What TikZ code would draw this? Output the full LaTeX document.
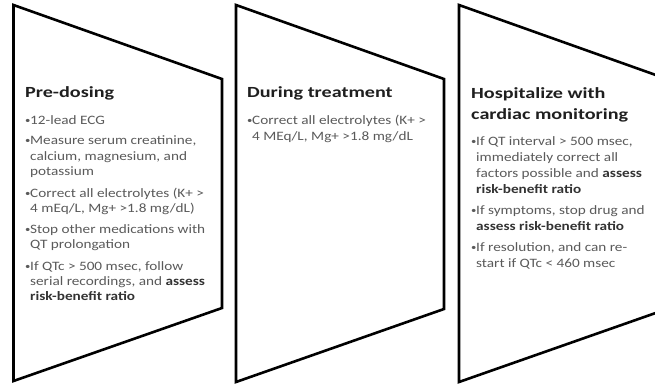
\documentclass[tikz,border=0pt]{standalone}
\usepackage{fontspec}
\setmainfont{Carlito}
\newfontfamily\boxfont[FakeStretch=1.19]{Carlito}
\newfontfamily\headfont[FakeStretch=1.3]{Carlito}
\usepackage{xcolor}
\definecolor{titletext}{HTML}{1F1F1F}
\definecolor{bodytext}{HTML}{5A5A5A}
\definecolor{boldtext}{HTML}{333333}
\newcommand{\hl}[1]{{\bfseries\color{boldtext}#1}}
\newcommand{\bul}{\makebox[5pt][l]{\fontsize{9}{9}\selectfont\raisebox{0.6pt}{•}}}
\newcommand{\gap}{\hspace*{5pt}}

\begin{document}
\begin{tikzpicture}[x=1pt, y=-1pt,
  stage/.style={draw=black, line width=2.6pt, fill=white, line join=miter},
  heading/.style={anchor=base west, inner sep=0pt, text=titletext,
    font=\headfont\fontsize{15.5}{18}\selectfont\bfseries},
  entry/.style={anchor=base west, inner sep=0pt, text=bodytext,
    font=\boxfont\fontsize{12.8}{15}\selectfont}]
  \clip (0,0) rectangle (655,383);
  \fill[white] (0,0) rectangle (655,383);

  % the three stages
  \draw[stage] (13.5,5) -- (222,79) -- (222,308) -- (13.5,381) -- cycle;
  \draw[stage] (236,5) -- (444,79) -- (444,309) -- (236,382) -- cycle;
  \draw[stage] (459,5) -- (667,79) -- (667,309) -- (459,382) -- cycle;

  % pre-dosing
  \node[heading] (pre)   at (25,97)  {Pre-dosing};
  \node[entry]   (pre1)  at (25,124) {\bul 12-lead ECG};
  \node[entry]   (pre2)  at (25,144) {\bul Measure serum creatinine,};
  \node[entry]   (pre3)  at (25,160) {\gap calcium, magnesium, and};
  \node[entry]   (pre4)  at (25,175) {\gap potassium};
  \node[entry]   (pre5)  at (25,197) {\bul Correct all electrolytes (K+ >};
  \node[entry]   (pre6)  at (25,212) {\gap 4 mEq/L, Mg+ >1.8 mg/dL)};
  \node[entry]   (pre7)  at (25,233) {\bul Stop other medications with};
  \node[entry]   (pre8)  at (25,248) {\gap QT prolongation};
  \node[entry]   (pre9)  at (25,270) {\bul If QTc > 500 msec, follow};
  \node[entry]   (pre10) at (25,285) {\gap serial recordings, and \hl{assess}};
  \node[entry]   (pre11) at (25,300) {\gap\hl{risk-benefit ratio}};

  % during treatment
  \node[heading] (dur)   at (247,97)  {During treatment};
  \node[entry]   (dur1)  at (247,124) {\bul Correct all electrolytes (K+ >};
  \node[entry]   (dur2)  at (247,140) {\gap 4 MEq/L, Mg+ >1.8 mg/dL};

  % hospitalize
  \node[heading] (hosp)  at (471,98)  {Hospitalize with};
  \node[heading] (hosp0) at (471,119) {cardiac monitoring};
  \node[entry]   (hosp1) at (471,145) {\bul If QT interval > 500 msec,};
  \node[entry]   (hosp2) at (471,161) {\gap immediately correct all};
  \node[entry]   (hosp3) at (471,177) {\gap factors possible and \hl{assess}};
  \node[entry]   (hosp4) at (471,193) {\gap\hl{risk-benefit ratio}};
  \node[entry]   (hosp5) at (471,214) {\bul If symptoms, stop drug and};
  \node[entry]   (hosp6) at (471,230) {\gap\hl{assess risk-benefit ratio}};
  \node[entry]   (hosp7) at (471,251) {\bul If resolution, and can re-};
  \node[entry]   (hosp8) at (471,267) {\gap start if QTc < 460 msec};
\end{tikzpicture}
\end{document}
